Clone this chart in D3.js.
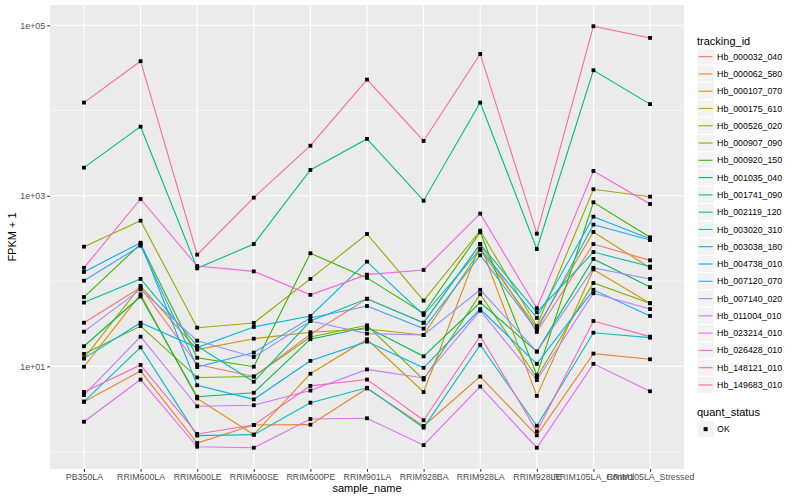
<!DOCTYPE html>
<html>
<head>
<meta charset="utf-8">
<script src="https://cdn.jsdelivr.net/npm/d3@7"></script>
<style>
  html, body { margin: 0; padding: 0; background: #fff; }
  svg { display: block; font-family: "Liberation Sans", Arial, Helvetica, sans-serif; }
</style>
</head>
<body>
<svg id="chart" width="800" height="500"></svg>
<script>
// ---------------- data ----------------
const samples = ["PB350LA","RRIM600LA","RRIM600LE","RRIM600SE","RRIM600PE","RRIM901LA",
                 "RRIM928BA","RRIM928LA","RRIM928LE","RRIM105LA_Control","RRIM105LA_Stressed"];
const trackingIds = ["Hb_000032_040","Hb_000062_580","Hb_000107_070","Hb_000175_610","Hb_000526_020",
  "Hb_000907_090","Hb_000920_150","Hb_001035_040","Hb_001741_090","Hb_002119_120","Hb_003020_310",
  "Hb_003038_180","Hb_004738_010","Hb_007120_070","Hb_007140_020","Hb_011004_010","Hb_023214_010",
  "Hb_026428_010","Hb_148121_010","Hb_149683_010"];
const yTickValues = [10, 1000, 100000];
const yTickLabels = ["1e+01", "1e+03", "1e+05"];
const yMinorValues = [1, 100, 10000];
const quantStatus = ["OK"];

// FPKM + 1 per sample, one array per tracking_id
const Hb_000032_040 = [32.5, 84, 10.5, 7.6, 23.8, 62, 32.5, 272, 25.3, 272, 175];
const Hb_000062_580 = [3.85, 8.8, 1.26, 2.05, 2.07, 5.5, 2.0, 7.6, 1.55, 14.1, 12.1];
const Hb_000107_070 = [9.9, 70, 4.2, 1.58, 8.2, 20.8, 5.0, 270, 4.5, 137, 55];
const Hb_000175_610 = [12.4, 88, 15.7, 21.1, 25.1, 27.4, 23.3, 232, 28.4, 377, 143];
const Hb_000526_020 = [253, 511, 28.4, 32.3, 106, 357, 59, 390, 29.7, 1194, 977];
const Hb_000907_090 = [14.0, 29.7, 7.4, 7.6, 22.1, 30.3, 7.0, 70, 7.4, 95, 55];
const Hb_000920_150 = [65, 272, 12.6, 9.9, 212, 109, 42, 374, 7.9, 840, 326];
const Hb_001035_040 = [17.2, 66, 4.4, 4.9, 20.8, 28.7, 13.1, 56, 14.9, 182, 85];
const Hb_001741_090 = [2140, 6470, 141, 272, 2010, 4650, 877, 12400, 238, 29700, 11900];
const Hb_002119_120 = [56, 106, 17.3, 6.6, 34, 62, 32.5, 272, 43, 219, 148];
const Hb_003020_310 = [3.85, 16.7, 1.54, 1.58, 3.75, 5.6, 1.91, 17.8, 2.01, 24.8, 21.7];
const Hb_003038_180 = [12.4, 32.5, 16.6, 29.0, 39, 169, 40, 238, 37, 569, 314];
const Hb_004738_010 = [128, 282, 6.0, 4.1, 11.6, 19.5, 9.6, 47, 10.7, 79, 39];
const Hb_007120_070 = [101, 260, 9.8, 14.5, 37, 51, 27.7, 201, 26.7, 459, 303];
const Hb_007140_020 = [25.5, 80, 20.0, 12.9, 34, 24.2, 23.3, 79, 14.9, 143, 106];
const Hb_011004_010 = [4.6, 22.3, 3.4, 3.5, 5.2, 9.2, 7.3, 45, 6.9, 72, 47];
const Hb_023214_010 = [2.24, 7.0, 1.14, 1.11, 2.41, 2.46, 1.19, 5.8, 1.11, 10.7, 5.1];
const Hb_026428_010 = [143, 918, 150, 130, 69, 119, 135, 618, 48, 1955, 802];
const Hb_148121_010 = [5.0, 10.4, 1.61, 2.05, 5.9, 7.0, 2.33, 22.7, 1.73, 34, 22.3];
const Hb_149683_010 = [12400, 37900, 204, 951, 3870, 23100, 4400, 46100, 360, 97500, 71100];

const seriesValues = [Hb_000032_040, Hb_000062_580, Hb_000107_070, Hb_000175_610, Hb_000526_020,
  Hb_000907_090, Hb_000920_150, Hb_001035_040, Hb_001741_090, Hb_002119_120, Hb_003020_310,
  Hb_003038_180, Hb_004738_010, Hb_007120_070, Hb_007140_020, Hb_011004_010, Hb_023214_010,
  Hb_026428_010, Hb_148121_010, Hb_149683_010];

const series = trackingIds.map((id, i) => ({
  id, values: samples.map((s, j) => ({ sample: s, value: seriesValues[i][j] }))
}));

// ---------------- ggplot-like hue palette (R hcl, polarLUV) ----------------
function hclR(h, c, l) {
  const WX = 95.047, WY = 100.0, WZ = 108.883;
  const hr = h * Math.PI / 180;
  const U = c * Math.cos(hr), V = c * Math.sin(hr);
  const Y = WY * (l > 7.999592 ? Math.pow((l + 16) / 116, 3) : l / 903.3);
  const t = WX + WY + WZ, x = WX / t, y = WY / t;
  const uN = 2 * x / (6 * y - x + 1.5), vN = 4.5 * y / (6 * y - x + 1.5);
  const u = U / (13 * l) + uN, v = V / (13 * l) + vN;
  const X = 9.0 * Y * u / (4 * v);
  const Z = -X / 3 - 5 * Y + 3 * Y / v;
  const gam = q => q > 0.0031308 ? 1.055 * Math.pow(q, 1 / 2.4) - 0.055 : 12.92 * q;
  const cl = q => Math.max(0, Math.min(1, q));
  const r = cl(gam((3.240479 * X - 1.537150 * Y - 0.498535 * Z) / WY));
  const g = cl(gam((-0.969256 * X + 1.875992 * Y + 0.041556 * Z) / WY));
  const b = cl(gam((0.055648 * X - 0.204043 * Y + 1.057311 * Z) / WY));
  return d3.rgb(r * 255, g * 255, b * 255).formatHex();
}
const n = trackingIds.length;
// hues: seq(15, 375, length = n + 1)[1:n]
const hues = d3.range(n).map(i => 15 + i * 360 / n);
const colors = hues.map(h => hclR(h, 100, 65));
const color = d3.scaleOrdinal().domain(trackingIds).range(colors);

// ---------------- layout ----------------
const svg = d3.select("#chart");
const panel = { left: 50, right: 684, top: 5, bottom: 469 };

const x = d3.scalePoint().domain(samples).range([panel.left, panel.right]).padding(0.6);
const y = d3.scaleLog().domain([Math.pow(10, -0.204), Math.pow(10, 5.238)]).range([panel.bottom, panel.top]);

svg.append("rect").attr("x", 0).attr("y", 0).attr("width", 800).attr("height", 500).attr("fill", "#fff");
svg.append("rect")
  .attr("x", panel.left).attr("y", panel.top)
  .attr("width", panel.right - panel.left).attr("height", panel.bottom - panel.top)
  .attr("fill", "#EBEBEB");

const grid = svg.append("g");
grid.selectAll(".minor").data(yMinorValues).join("line")
  .attr("x1", panel.left).attr("x2", panel.right)
  .attr("y1", d => y(d)).attr("y2", d => y(d))
  .attr("stroke", "#fff").attr("stroke-width", 0.55);
grid.selectAll(".majorY").data(yTickValues).join("line")
  .attr("x1", panel.left).attr("x2", panel.right)
  .attr("y1", d => y(d)).attr("y2", d => y(d))
  .attr("stroke", "#fff").attr("stroke-width", 1.1);
grid.selectAll(".majorX").data(samples).join("line")
  .attr("y1", panel.top).attr("y2", panel.bottom)
  .attr("x1", d => x(d)).attr("x2", d => x(d))
  .attr("stroke", "#fff").attr("stroke-width", 1.1);

// lines
const line = d3.line().x(d => x(d.sample)).y(d => y(d.value));
svg.append("g").selectAll("path").data(series).join("path")
  .attr("d", d => line(d.values))
  .attr("fill", "none")
  .attr("stroke", d => color(d.id))
  .attr("stroke-width", 1.1);

// points (filled squares)
const ps = 3.8;
svg.append("g").selectAll("g").data(series).join("g")
  .selectAll("rect").data(d => d.values).join("rect")
  .attr("x", d => x(d.sample) - ps / 2).attr("y", d => y(d.value) - ps / 2)
  .attr("width", ps).attr("height", ps).attr("fill", "#000");

// axes
const yAxis = d3.axisLeft(y).tickValues(yTickValues).tickFormat((d, i) => yTickLabels[i]).tickSize(2.75).tickPadding(2.2);
const gy = svg.append("g").attr("transform", `translate(${panel.left},0)`).call(yAxis);
gy.select(".domain").remove();
gy.selectAll(".tick line").attr("stroke", "#333").attr("stroke-width", 1.05);
gy.selectAll(".tick text").attr("fill", "#4D4D4D").attr("font-size", "8.8px")
  .attr("font-family", "Liberation Sans, Arial, sans-serif");

const xAxis = d3.axisBottom(x).tickSize(2.75).tickPadding(2.2);
const gx = svg.append("g").attr("transform", `translate(0,${panel.bottom})`).call(xAxis);
gx.select(".domain").remove();
gx.selectAll(".tick line").attr("stroke", "#333").attr("stroke-width", 1.05);
gx.selectAll(".tick text").attr("fill", "#4D4D4D").attr("font-size", "8.8px")
  .attr("font-family", "Liberation Sans, Arial, sans-serif");

// axis titles
svg.append("text").attr("x", (panel.left + panel.right) / 2).attr("y", 492)
  .attr("text-anchor", "middle").attr("font-size", "11px").attr("fill", "#000").text("sample_name");
svg.append("text").attr("transform", `translate(16,${(panel.top + panel.bottom) / 2}) rotate(-90)`)
  .attr("text-anchor", "middle").attr("font-size", "11px").attr("fill", "#000").text("FPKM + 1");

// legend: tracking_id
const lg = svg.append("g").attr("transform", "translate(697,0)");
lg.append("text").attr("x", 0).attr("y", 45).attr("font-size", "11px").attr("fill", "#000").text("tracking_id");
const keyH = 17.28, key0 = 48;
const items = lg.selectAll(".item").data(trackingIds).join("g")
  .attr("transform", (d, i) => `translate(0,${key0 + i * keyH})`);
items.append("rect").attr("x", 0).attr("y", 0).attr("width", keyH).attr("height", keyH)
  .attr("fill", "#F2F2F2").attr("stroke", "#fff").attr("stroke-width", 1);
items.append("line").attr("x1", 1.7).attr("x2", keyH - 1.7)
  .attr("y1", keyH / 2).attr("y2", keyH / 2)
  .attr("stroke", d => color(d)).attr("stroke-width", 1.1);
items.append("text").attr("x", keyH + 2.8).attr("y", keyH / 2 + 3.1)
  .attr("font-size", "8.8px").attr("fill", "#000").text(d => d);

// legend: quant_status
const qg = svg.append("g").attr("transform", "translate(697,0)");
qg.append("text").attr("x", 0).attr("y", 416).attr("font-size", "11px").attr("fill", "#000").text("quant_status");
const qItems = qg.selectAll(".q").data(quantStatus).join("g").attr("transform", "translate(0,420.5)");
qItems.append("rect").attr("width", keyH).attr("height", keyH).attr("fill", "#F2F2F2").attr("stroke", "#fff");
qItems.append("rect").attr("x", keyH / 2 - 2).attr("y", keyH / 2 - 2).attr("width", 4).attr("height", 4).attr("fill", "#000");
qItems.append("text").attr("x", keyH + 2.8).attr("y", keyH / 2 + 3.1)
  .attr("font-size", "8.8px").attr("fill", "#000").text(d => d);
</script>
</body>
</html>
